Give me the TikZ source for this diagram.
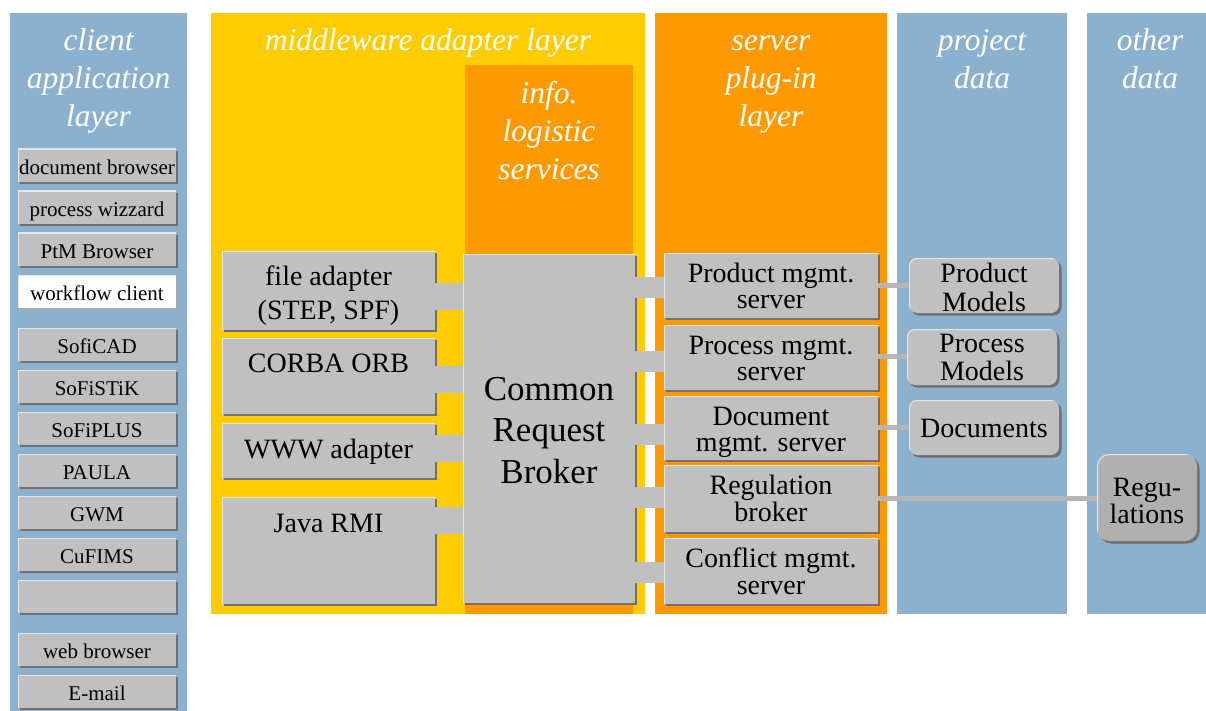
\documentclass[tikz,border=0pt]{standalone}
\usepackage{fontspec}
\setmainfont{Liberation Serif}
\usetikzlibrary{positioning,shadows}

\definecolor{layerblue}{RGB}{139,177,207}
\definecolor{layeryellow}{RGB}{255,204,0}
\definecolor{layerorange}{RGB}{255,153,0}
\definecolor{boxgray}{RGB}{192,192,192}
\definecolor{datagray}{RGB}{176,176,176}
\definecolor{boxshadow}{RGB}{112,112,112}
\definecolor{boxlight}{RGB}{230,230,230}
\definecolor{linkgray}{RGB}{182,182,182}

\newcommand{\titlefont}{\fontsize{31.5}{38}\selectfont\itshape}
\newcommand{\clientfont}{\fontsize{21}{22}\selectfont}
\newcommand{\adapterfont}{\fontsize{28}{34}\selectfont}
\newcommand{\serverfont}{\fontsize{28}{26.7}\selectfont}
\newcommand{\datafont}{\fontsize{28}{28.5}\selectfont}
\newcommand{\brokerfont}{\fontsize{35}{41.5}\selectfont}

\tikzset{
	raised/.style={
		anchor=north west, inner xsep=0pt, inner ysep=0pt, outer sep=0pt, align=center,
		fill=boxgray,
		drop shadow={shadow xshift=2pt, shadow yshift=-2pt, fill=boxshadow, opacity=1},
		path picture={\draw[boxlight, line width=2pt]
			(path picture bounding box.south west) |- (path picture bounding box.north east);}},
	% baseline of the first line sits #1 below the top edge, box is #2 high
	textbox/.style 2 args={text height=#1, text depth=#2-#1},
	clientbox/.style={raised, minimum width=158pt, font=\clientfont, textbox={25.5pt}{33pt}},
	adapterbox/.style={raised, minimum width=213pt, font=\adapterfont},
	serverbox/.style={raised, minimum width=214pt, font=\serverfont},
	databox/.style={raised, rounded corners=8pt, minimum width=150pt, font=\datafont,
		drop shadow={shadow xshift=2.5pt, shadow yshift=-2.5pt, fill=boxshadow, opacity=1}},
	% #1 = number of lines, first baseline 26pt under the anchor
	layertitle/.style={anchor=north, align=center, inner sep=0pt, text=white,
		font=\titlefont, text height=26pt+38pt*(#1-1), text depth=0pt},
	stub/.style={draw=boxgray, line cap=butt},
	datalink/.style={draw=linkgray, line width=5pt, line cap=butt},
}

\begin{document}
\begin{tikzpicture}[x=1pt, y=-1pt]
	\useasboundingbox (0,0) rectangle (1206,711);

	% layer columns
	\fill[layerblue] (10,13) rectangle (187,711);
	\fill[layeryellow] (211,13) rectangle (645,614);
	\fill[layerorange] (465,65) rectangle (633,614);
	\fill[layerorange] (655,13) rectangle (887,614);
	\fill[layerblue] (897,13) rectangle (1067,614);
	\fill[layerblue] (1087,13) rectangle (1206,614);

	\node[layertitle=3] (clienttitle) at (98.5,24) {client\\application\\layer};
	\node[layertitle=1] (middletitle) at (428,24) {middleware adapter layer};
	\node[layertitle=3] (infotitle) at (549,77) {info.\\logistic\\services};
	\node[layertitle=3] (servertitle) at (771,24) {server\\plug-in\\layer};
	\node[layertitle=2] (projecttitle) at (982,24) {project\\data};
	\node[layertitle=2] (othertitle) at (1150,24) {other\\data};

	% client applications
	\node[clientbox] (docbrowser) at (18,149) {document browser};
	\node[clientbox] (wizzard) at (18,191) {process wizzard};
	\node[clientbox] (ptm) at (18,233) {PtM Browser};
	\node[clientbox, fill=white, drop shadow={shadow xshift=2pt, shadow yshift=-2pt,
		fill=boxshadow!60, opacity=1}] (wfclient) at (18,275) {workflow client};
	\node[clientbox] (soficad) at (18,328) {SofiCAD};
	\node[clientbox] (sofistik) at (18,370) {SoFiSTiK};
	\node[clientbox] (sofiplus) at (18,412) {SoFiPLUS};
	\node[clientbox] (paula) at (18,454) {PAULA};
	\node[clientbox] (gwm) at (18,496) {GWM};
	\node[clientbox] (cufims) at (18,538) {CuFIMS};
	\node[clientbox] (spare) at (18,580) {};
	\node[clientbox] (webbrowser) at (18,633) {web browser};
	\node[clientbox] (email) at (18,675) {E-mail};

	% middleware adapters and broker
	\node[adapterbox, textbox={68.5pt}{79pt}] (fileadp) at (222,251) {file adapter\\(STEP, SPF)};
	\node[adapterbox, textbox={34.5pt}{76pt}] (corba) at (222,338) {CORBA ORB};
	\node[adapterbox, textbox={35pt}{55pt}] (wwwadp) at (222,423) {WWW adapter};
	\node[adapterbox, textbox={35pt}{107pt}] (javarmi) at (222,497) {Java RMI};
	\node[raised, minimum width=172pt, font=\brokerfont, textbox={229pt}{349pt}] (crb) at (463,254)
		{Common\\Request\\Broker};

	% server plug-ins
	\node[serverbox, textbox={55.7pt}{65pt}] (prodsrv) at (664,253) {Product mgmt.\\server};
	\node[serverbox, textbox={55.7pt}{65pt}] (procsrv) at (664,325) {Process mgmt.\\server};
	\node[serverbox, textbox={55.7pt}{64pt}] (docsrv) at (664,396) {Document\\mgmt. server};
	\node[serverbox, textbox={56pt}{67pt}] (regbroker) at (664,465) {Regulation\\broker};
	\node[serverbox, textbox={56pt}{66pt}] (conflict) at (664,538) {Conflict mgmt.\\server};

	% data stores
	\node[databox, textbox={53pt}{55pt}] (prodmodels) at (909,258) {Product\\Models};
	\node[databox, textbox={51.5pt}{56pt}] (procmodels) at (907,329) {Process\\Models};
	\node[databox, textbox={37.5pt}{55pt}] (documents) at (909,400) {Documents};
	\node[databox, fill=datagray, rounded corners=12pt, minimum width=100pt,
		font=\fontsize{28}{27}\selectfont, textbox={69pt}{87pt}] (regulations) at (1097,454)
		{Regu-\\lations};

	% adapters -> broker
	\draw[stub, line width=27pt] (fileadp.east |- 0,296.5) -- (crb.west |- 0,296.5);
	\draw[stub, line width=27pt] (corba.east |- 0,379) -- (crb.west |- 0,379);
	\draw[stub, line width=27pt] (wwwadp.east |- 0,448) -- (crb.west |- 0,448);
	\draw[stub, line width=27pt] (javarmi.east |- 0,520.5) -- (crb.west |- 0,520.5);

	% broker -> servers
	\draw[stub, line width=21pt] (crb.east |- 0,287.5) -- (prodsrv.west |- 0,287.5);
	\draw[stub, line width=21pt] (crb.east |- 0,361) -- (procsrv.west |- 0,361);
	\draw[stub, line width=21pt] (crb.east |- 0,434.5) -- (docsrv.west |- 0,434.5);
	\draw[stub, line width=21pt] (crb.east |- 0,497.5) -- (regbroker.west |- 0,497.5);
	\draw[stub, line width=21pt] (crb.east |- 0,572.5) -- (conflict.west |- 0,572.5);

	% servers -> data
	\draw[datalink] (prodsrv.east |- 0,285.5) -- (prodmodels.west |- 0,285.5);
	\draw[datalink] (procsrv.east |- 0,356.5) -- (procmodels.west |- 0,356.5);
	\draw[datalink] (docsrv.east |- 0,427.5) -- (documents.west |- 0,427.5);
	\draw[datalink] (regbroker.east |- 0,498.5) -- (regulations.west |- 0,498.5);
\end{tikzpicture}
\end{document}
